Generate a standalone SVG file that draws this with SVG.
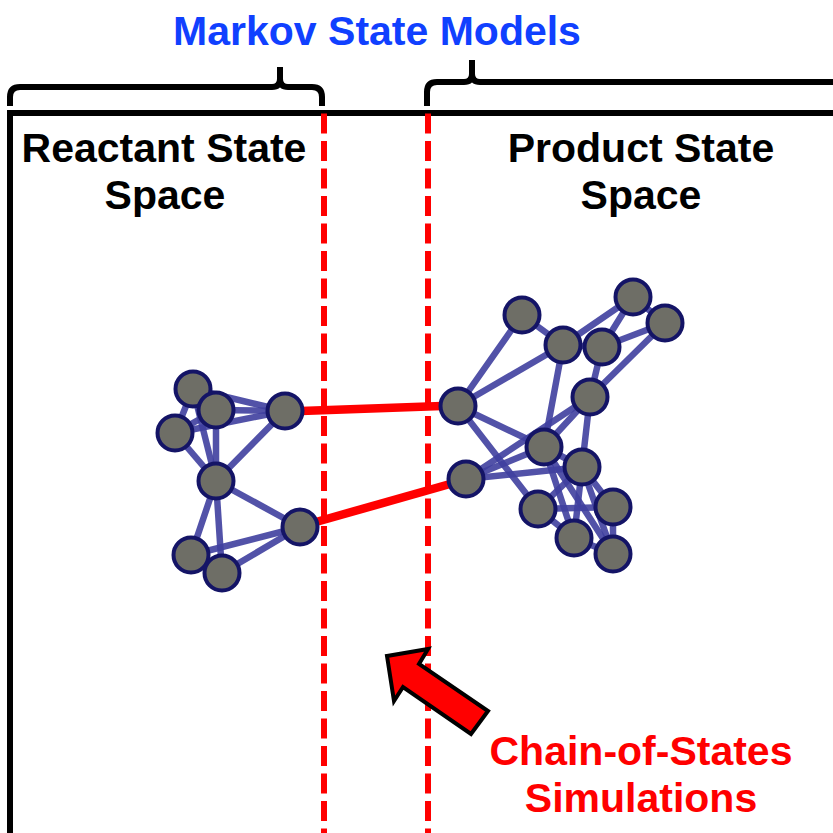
<svg xmlns="http://www.w3.org/2000/svg" width="833" height="833" viewBox="0 0 833 833">
<defs>
<style>
.bg{fill:#ffffff}
.frame{fill:none;stroke:#000;stroke-width:6}
.brace{fill:none;stroke:#000;stroke-width:6;stroke-linejoin:round}
.dash{stroke:#ff0000;stroke-width:6;stroke-dasharray:20 7.5}
.edge{stroke:#3f3f9e;stroke-opacity:0.9;stroke-width:6.5;stroke-linecap:round}
.link{stroke:#ff0000;stroke-width:8.5}
.node circle{fill:#6e6e66;stroke:#141466;stroke-width:4}
.t{font-family:"Liberation Sans",Arial,sans-serif;font-weight:bold;font-size:41px;text-anchor:middle}
.title{fill:#1040ff}
.black{fill:#000}
.red{fill:#ff0000}
.arrow{fill:#ff0000;stroke:#000;stroke-width:4;stroke-linejoin:miter}
</style>
</defs>
<rect class="bg" x="0" y="0" width="833" height="833"/>

<g id="frame">
<path class="frame" d="M10,833 V113 H833"/>
<path class="brace" d="M10,106 V97 Q10,87 20,87 H272 Q280,87 280,79 V67 M280,79 Q280,87 288,87 H312 Q322,87 322,97 V106"/>
<path class="brace" d="M427,106 V92 Q427,82 437,82 H464 Q472,82 472,74 V60 M472,74 Q472,82 480,82 H833"/>
</g>

<g id="boundaries">
<line class="dash" x1="324" y1="113.5" x2="324" y2="833"/>
<line class="dash" x1="428" y1="113.5" x2="428" y2="833"/>
</g>

<g id="labels">
<text class="t title" x="377" y="45">Markov State Models</text>
<text class="t black" x="164" y="162">Reactant State</text>
<text class="t black" x="165" y="209">Space</text>
<text class="t black" x="641" y="162">Product State</text>
<text class="t black" x="641" y="209">Space</text>
<text class="t red" x="641" y="765">Chain-of-States</text>
<text class="t red" x="641" y="812">Simulations</text>
</g>

<g id="connectors">
<g id="left-edges">
<line class="edge" x1="193" y1="389" x2="216" y2="410"/>
<line class="edge" x1="216" y1="410" x2="175" y2="433"/>
<line class="edge" x1="193" y1="389" x2="175" y2="433"/>
<line class="edge" x1="193" y1="389" x2="285" y2="411"/>
<line class="edge" x1="216" y1="410" x2="285" y2="411"/>
<line class="edge" x1="175" y1="433" x2="285" y2="411"/>
<line class="edge" x1="193" y1="389" x2="216" y2="481"/>
<line class="edge" x1="216" y1="410" x2="216" y2="481"/>
<line class="edge" x1="175" y1="433" x2="216" y2="481"/>
<line class="edge" x1="285" y1="411" x2="216" y2="481"/>
<line class="edge" x1="216" y1="481" x2="300" y2="527"/>
<line class="edge" x1="216" y1="481" x2="191" y2="555"/>
<line class="edge" x1="216" y1="481" x2="222" y2="573"/>
<line class="edge" x1="300" y1="527" x2="191" y2="555"/>
<line class="edge" x1="300" y1="527" x2="222" y2="573"/>
<line class="edge" x1="191" y1="555" x2="222" y2="573"/>
</g>
<g id="right-edges">
<line class="edge" x1="522" y1="315" x2="563" y2="345"/>
<line class="edge" x1="522" y1="315" x2="458" y2="406"/>
<line class="edge" x1="563" y1="345" x2="458" y2="406"/>
<line class="edge" x1="563" y1="345" x2="602" y2="347"/>
<line class="edge" x1="563" y1="345" x2="633" y2="297"/>
<line class="edge" x1="602" y1="347" x2="633" y2="297"/>
<line class="edge" x1="602" y1="347" x2="665" y2="323"/>
<line class="edge" x1="633" y1="297" x2="665" y2="323"/>
<line class="edge" x1="602" y1="347" x2="590" y2="397"/>
<line class="edge" x1="665" y1="323" x2="590" y2="397"/>
<line class="edge" x1="563" y1="345" x2="544" y2="447"/>
<line class="edge" x1="458" y1="406" x2="544" y2="447"/>
<line class="edge" x1="458" y1="406" x2="538" y2="509"/>
<line class="edge" x1="466" y1="479" x2="590" y2="397"/>
<line class="edge" x1="466" y1="479" x2="544" y2="447"/>
<line class="edge" x1="466" y1="479" x2="582" y2="467"/>
<line class="edge" x1="590" y1="397" x2="582" y2="467"/>
<line class="edge" x1="590" y1="397" x2="544" y2="447"/>
<line class="edge" x1="544" y1="447" x2="582" y2="467"/>
<line class="edge" x1="544" y1="447" x2="574" y2="538"/>
<line class="edge" x1="544" y1="447" x2="613" y2="554"/>
<line class="edge" x1="582" y1="467" x2="538" y2="509"/>
<line class="edge" x1="582" y1="467" x2="613" y2="507"/>
<line class="edge" x1="582" y1="467" x2="574" y2="538"/>
<line class="edge" x1="582" y1="467" x2="613" y2="554"/>
<line class="edge" x1="538" y1="509" x2="613" y2="507"/>
<line class="edge" x1="538" y1="509" x2="574" y2="538"/>
<line class="edge" x1="613" y1="507" x2="613" y2="554"/>
<line class="edge" x1="574" y1="538" x2="613" y2="554"/>
</g>
<g id="cross-links">
<line class="link" x1="301" y1="411" x2="442" y2="406"/>
<line class="link" x1="316" y1="522" x2="450" y2="484"/>
</g>
</g>

<g id="node-L1" class="node"><circle cx="193" cy="389" r="17.5"/></g>
<g id="node-L3" class="node"><circle cx="175" cy="433" r="17.5"/></g>
<g id="node-L2" class="node"><circle cx="216" cy="410" r="17.5"/></g>
<g id="node-L4" class="node"><circle cx="285" cy="411" r="17.5"/></g>
<g id="node-L5" class="node"><circle cx="216" cy="481" r="17.5"/></g>
<g id="node-L6" class="node"><circle cx="300" cy="527" r="17.5"/></g>
<g id="node-L7" class="node"><circle cx="191" cy="555" r="17.5"/></g>
<g id="node-L8" class="node"><circle cx="222" cy="573" r="17.5"/></g>

<g id="node-R1" class="node"><circle cx="522" cy="315" r="17.5"/></g>
<g id="node-R4" class="node"><circle cx="633" cy="297" r="17.5"/></g>
<g id="node-R5" class="node"><circle cx="665" cy="323" r="17.5"/></g>
<g id="node-R3" class="node"><circle cx="602" cy="347" r="17.5"/></g>
<g id="node-R2" class="node"><circle cx="563" cy="345" r="17.5"/></g>
<g id="node-R6" class="node"><circle cx="590" cy="397" r="17.5"/></g>
<g id="node-R7" class="node"><circle cx="458" cy="406" r="17.5"/></g>
<g id="node-R8" class="node"><circle cx="544" cy="447" r="17.5"/></g>
<g id="node-R9" class="node"><circle cx="582" cy="467" r="17.5"/></g>
<g id="node-R10" class="node"><circle cx="466" cy="479" r="17.5"/></g>
<g id="node-R11" class="node"><circle cx="538" cy="509" r="17.5"/></g>
<g id="node-R12" class="node"><circle cx="613" cy="507" r="17.5"/></g>
<g id="node-R13" class="node"><circle cx="574" cy="538" r="17.5"/></g>
<g id="node-R14" class="node"><circle cx="613" cy="554" r="17.5"/></g>

<g id="arrow">
<polygon class="arrow" points="387,656 428,649 419,664 488,711 471,734 403,687 394,701"/>
</g>
</svg>
